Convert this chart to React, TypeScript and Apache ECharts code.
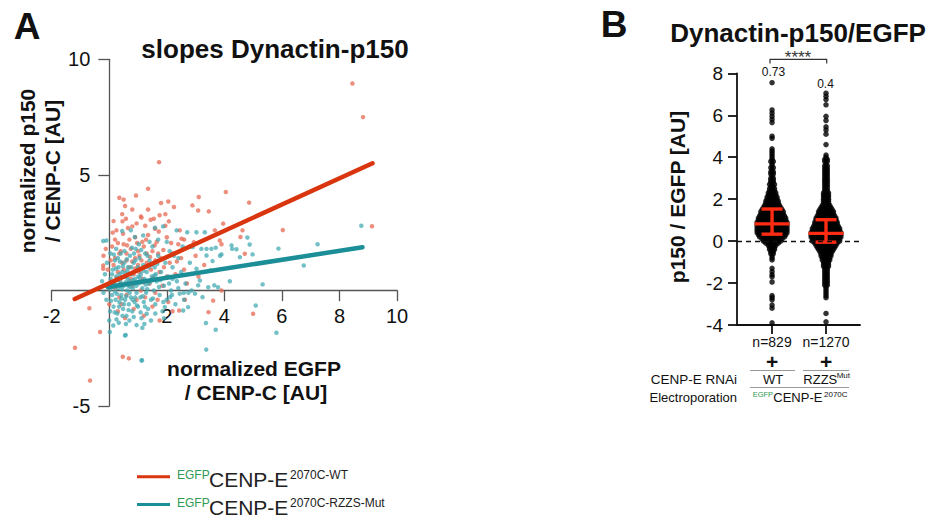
import React, { useEffect, useRef } from "react";
import * as echarts from "echarts";

const FONT = "'Liberation Sans', Arial, Helvetica, sans-serif";

// ---------- Panel A data ----------
const redPoints: number[][] = [
  [0.1, 1.9], [0.2, 2.2], [0.35, 1.6], [0.5, 2.0], [0.6, 1.3], [0.75, 1.8], [0.9, 2.3], [1.05, 1.5], [1.2, 1.9], [1.35, 2.4], [1.5, 1.7], [1.65, 2.1], [1.8, 1.4], [2.0, 2.3], [2.2, 1.6], [2.4, 2.0],
  [0.15, 1.1], [0.3, 0.8], [0.45, 1.2], [0.55, 0.6], [0.7, 1.0], [0.85, 0.7], [1.0, 1.1], [1.15, 0.5], [1.3, 1.2], [1.45, 0.9], [1.6, 1.3], [1.75, 0.8], [1.9, 1.0], [2.1, 1.2], [2.3, 0.7],
  [0.05, 0.4], [0.2, 0.1], [0.4, 0.3], [0.6, -0.2], [0.8, 0.2], [0.95, -0.4], [1.1, 0.0], [1.25, -0.3], [1.4, 0.3], [1.6, -0.1], [1.85, 0.2], [2.05, -0.5],
  [0.25, 2.6], [0.65, 2.7], [0.95, 2.9], [1.25, 2.8], [1.55, 3.1], [1.95, 2.8], [0.45, 3.3], [0.8, 3.5], [1.1, 3.2],
  [-0.05, 0.9], [-0.2, 1.5], [-0.1, 0.2], [0.0, -0.6], [0.3, -0.9], [0.55, -1.2], [0.85, -0.8], [1.2, -1.1], [1.5, -0.7], [1.75, -1.3], [2.2, -0.9],
  [0.4, 1.7], [0.7, 2.2], [1.0, 1.7], [1.3, 1.6], [0.5, 0.9], [0.9, 1.4], [1.15, 2.1], [1.7, 1.6], [2.5, 1.4], [2.6, 0.9], [2.8, 1.9], [3.0, 1.5], [3.3, 1.1], [2.7, 0.3], [3.1, 0.6],
  [0.35, -0.3], [0.75, 0.5], [1.05, 0.8], [0.2, 1.4], [0.6, 1.6],
  [0.12, 2.5], [0.3, 2.05], [0.48, 2.45], [0.62, 1.95], [0.8, 1.25], [0.97, 2.05], [1.12, 1.3], [1.28, 2.2], [1.42, 1.45], [1.58, 1.95], [1.72, 2.55], [1.88, 1.75], [2.15, 2.05], [2.35, 1.25],
  [0.25, 0.55], [0.42, -0.6], [0.68, 0.25], [0.9, 0.95], [1.2, 0.35], [1.52, 0.55], [1.68, -0.4], [2.0, 0.6], [2.45, 2.6], [2.6, 2.2], [0.05, 1.3], [-0.12, 1.8], [0.15, 3.0], [0.58, 3.1], [1.35, 3.5], [1.95, 3.3],
  [8.45, 8.95], [8.82, 7.5], [1.73, 5.55], [1.35, 4.4], [0.93, 4.11], [0.35, 4.01], [0.5, 3.93], [0.55, 3.65], [1.8, 3.78], [2.05, 3.85], [2.25, 3.61], [3.11, 4.04], [4.05, 4.26], [2.89, 3.68], [3.09, 3.46], [3.46, 3.42], [4.86, 3.8],
  [1.75, 3.25], [1.12, 3.15], [1.44, 3.06], [2.07, 2.99], [0.46, 2.99], [0.8, 2.77], [1.59, 2.67], [2.51, 2.24], [2.94, 2.09], [3.96, 2.89], [4.71, 1.59], [-0.21, 1.08], [-0.21, 0.94],
  [-0.69, -0.77], [-0.32, -1.8], [-1.19, -2.48], [-0.67, -3.9], [0.47, -2.87], [0.68, -2.94], [2.63, -0.4], [3.61, -0.44], [3.45, -0.94], [5.0, -1.01], [2.43, -0.87],
  [6.03, 2.61], [9.13, 2.78], [3.9, 0.0], [4.56, 2.31], [4.63, 2.6], [3.84, 2.16], [3.9, 2.0], [3.67, 2.6],
];

const tealPoints: number[][] = [
  [0.05, 0.5], [0.1, -0.2], [0.12, 0.9], [0.15, -0.7], [0.18, 0.3], [0.2, 1.3], [0.22, -0.4], [0.25, 0.6], [0.28, -1.0], [0.3, 0.1], [0.32, 1.0], [0.35, -0.5], [0.38, 0.4], [0.4, 1.6], [0.42, -0.2], [0.45, 0.8],
  [0.48, -0.8], [0.5, 0.2], [0.52, 1.2], [0.55, -0.4], [0.58, 0.6], [0.6, -1.1], [0.62, 0.0], [0.65, 1.0], [0.68, -0.6], [0.7, 0.4], [0.72, 1.5], [0.75, -0.3], [0.78, 0.7], [0.8, -0.9], [0.82, 0.1], [0.85, 1.2],
  [0.88, -0.5], [0.9, 0.5], [0.92, 1.8], [0.95, -0.1], [0.98, 0.9], [1.0, -0.7], [1.02, 0.3], [1.05, 1.4], [1.08, -0.3], [1.1, 0.7], [1.12, -1.2], [1.15, 0.1], [1.18, 1.1], [1.2, -0.5], [1.22, 0.5], [1.25, 1.6],
  [1.28, -0.1], [1.3, 0.8], [1.35, -0.8], [1.38, 0.3], [1.4, 1.3], [1.45, -0.4], [1.48, 0.6], [1.5, 1.9], [1.55, 0.0], [1.58, 1.0], [1.6, -0.6], [1.65, 0.4], [1.7, 1.5], [1.75, -0.2], [1.8, 0.8], [1.85, -0.9],
  [1.9, 0.2], [1.95, 1.2], [2.0, -0.4], [2.05, 0.6], [2.1, 1.7], [2.15, 0.0], [2.2, 1.0], [2.3, -0.6], [2.35, 0.4], [2.4, 1.4], [2.5, 0.8], [2.55, 1.9], [2.65, 0.3], [2.8, 1.2],
  [-0.05, 0.2], [-0.1, -0.4], [-0.15, 0.7], [-0.2, -0.1], [-0.08, 1.2], [-0.25, 0.4], [0.0, -1.3], [0.02, 0.05], [0.08, 0.15], [0.03, -0.9],
  [0.15, 0.15], [0.27, -0.15], [0.36, 0.7], [0.44, 0.05], [0.57, 0.35], [0.63, 0.85], [0.71, -0.1], [0.83, 0.45], [0.94, 0.2], [1.06, 0.55], [1.16, -0.25], [1.27, 0.25], [1.33, 1.5], [1.46, 1.1], [1.62, 0.7], [1.73, 0.15],
  [0.24, 1.8], [0.53, 1.7], [0.86, 1.6], [1.03, 2.0], [1.4, 2.1], [1.7, 2.2], [2.0, 2.1], [2.25, 1.5], [0.33, -1.4], [0.7, -1.3], [0.95, -1.5], [1.45, -1.3], [1.9, -1.2], [0.46, -1.1], [0.2, -0.05], [0.4, 0.55],
  [0.66, 0.2], [0.9, -0.3], [1.0, 1.0], [0.1, 0.7], [0.3, 1.4],
  [0.06, -0.45], [0.13, 0.35], [0.19, -0.95], [0.23, 0.95], [0.29, 0.45], [0.34, -0.7], [0.39, 0.2], [0.43, -0.35], [0.47, 1.05], [0.51, -0.6], [0.56, 0.75], [0.59, -0.25], [0.64, 0.5], [0.67, -0.85],
  [0.73, 0.15], [0.77, 1.0], [0.81, -0.4], [0.87, 0.3], [0.91, 1.3], [0.96, -0.65], [1.01, 0.6], [1.09, -0.95], [1.13, 0.35], [1.19, 0.85], [1.24, -0.7], [1.32, 0.05], [1.37, 1.0], [1.43, 0.4],
  [1.52, -0.35], [1.57, 0.65], [1.67, 1.15], [1.78, 0.45], [1.88, -0.5], [1.98, 0.55], [2.08, 0.3], [2.18, -0.2], [0.04, 1.6], [0.16, 1.55], [0.37, 1.25], [0.61, 1.35], [0.79, 1.85], [1.11, 1.75],
  [0.25, -1.25], [0.58, -1.45], [0.85, -1.15], [1.22, -1.45], [1.6, -1.0], [2.4, 0.1], [2.6, -0.4], [2.2, 0.5],
  [8.76, 2.8], [7.24, 2.0], [6.76, 1.08], [5.88, 1.81], [5.33, 0.26], [5.09, -0.65], [5.81, -1.83], [3.7, -1.7], [3.37, -2.56], [1.14, -3.02], [0.57, -1.93], [2.57, -0.87],
  [4.98, 1.56], [4.88, 1.99], [4.8, 2.29], [4.54, 1.44], [4.42, 1.78], [4.27, 1.8], [4.25, 1.95], [4.19, 0.4], [3.9, 1.56], [3.85, 1.5], [3.7, 1.85], [3.55, 1.8], [3.38, 1.8], [3.38, 1.51], [3.2, 1.8],
  [3.59, 1.27], [3.52, 0.87], [3.24, -0.29], [3.36, -1.41], [3.65, 0.22], [3.44, 0.14], [3.09, 0.22], [2.98, -0.14], [2.86, 0.0], [2.75, -0.1], [2.59, -0.1], [3.32, 2.52], [3.03, 2.52], [2.9, 1.88],
  [-0.21, 2.14], [-0.1, 2.16], [0.45, 2.57], [0.75, 2.6], [0.89, 2.31], [1.18, 2.38], [1.59, 2.71], [1.87, 2.77], [2.34, 2.6], [2.71, 2.52], [3.03, 0.94], [3.15, 0.43], [3.78, 0.14],
  [2.45, -0.14], [2.11, -0.29], [2.74, -0.72], [1.93, -0.72], [1.3, -1.01], [1.15, -1.62], [0.14, -1.52], [0.02, -1.8], [1.12, -3.03], [0.55, -1.95],
];

const redFit: number[][] = [[-1.2, -0.37], [9.15, 5.5]];
const tealFit: number[][] = [[-0.05, 0.15], [8.8, 1.87]];

const legendNames = ["2070C-WT", "2070C-RZZS-Mut"];

// ---------- Panel B data ----------
const groupPos = [1, 2];
const nLabels = ["n=829", "n=1270"];
const medianLabels = ["0.73", "0.4"];
const centers = [0.82, 0.37];
const lowerQ = [0.33, -0.05];
const upperQ = [1.53, 1.02];

// [y value, number of dots in that row]
const wtRows: number[][] = [
  [7.55, 1], [6.25, 1], [6.1, 1], [5.95, 1], [5.8, 1], [5.65, 1], [5.0, 1], [4.9, 1],
  [4.4, 1], [4.3, 1], [4.2, 1], [4.1, 1], [4.0, 1], [3.9, 1], [3.8, 2], [3.7, 1], [3.6, 1], [3.5, 2], [3.4, 1], [3.3, 2], [3.2, 2], [3.1, 1], [3.0, 2],
  [2.9, 2], [2.8, 2], [2.7, 3], [2.6, 2], [2.5, 3], [2.4, 3], [2.3, 4], [2.2, 4], [2.1, 5], [2.0, 5], [1.9, 6], [1.8, 6], [1.7, 7], [1.6, 8], [1.5, 9],
  [1.4, 10], [1.3, 10], [1.2, 11], [1.1, 12], [1.0, 12], [0.9, 13], [0.8, 13], [0.7, 13], [0.6, 13], [0.5, 13], [0.4, 13], [0.3, 12], [0.2, 11], [0.1, 9],
  [0.0, 8], [-0.1, 6], [-0.2, 4], [-0.3, 3], [-0.4, 3], [-0.5, 2], [-0.6, 2], [-0.7, 1], [-0.8, 1], [-0.9, 1],
  [-1.3, 1], [-1.45, 1], [-1.6, 1], [-1.7, 1], [-1.95, 1], [-2.6, 1], [-2.7, 1], [-2.8, 1], [-3.05, 1], [-3.2, 1], [-3.9, 1],
];
const mutRows: number[][] = [
  [7.05, 1], [6.9, 1], [6.75, 1], [6.5, 1], [5.95, 1], [5.75, 1], [5.45, 1], [5.3, 1], [5.1, 1], [4.6, 1],
  [4.1, 1], [4.0, 1], [3.9, 2], [3.8, 2], [3.7, 1], [3.6, 2], [3.5, 2], [3.4, 2], [3.3, 2], [3.2, 2], [3.1, 2], [3.0, 2], [2.9, 2], [2.8, 2], [2.7, 2],
  [2.6, 2], [2.5, 2], [2.4, 2], [2.3, 3], [2.2, 3], [2.1, 3], [2.0, 3], [1.9, 3], [1.8, 3], [1.7, 4], [1.6, 5], [1.5, 6], [1.4, 7], [1.3, 7], [1.2, 8],
  [1.1, 9], [1.0, 9], [0.9, 10], [0.8, 10], [0.7, 11], [0.6, 12], [0.5, 12], [0.4, 13], [0.3, 13], [0.2, 13], [0.1, 12], [0.0, 12], [-0.1, 10], [-0.2, 9],
  [-0.3, 8], [-0.4, 7], [-0.5, 6], [-0.6, 5], [-0.7, 5], [-0.8, 4], [-0.9, 4], [-1.0, 3], [-1.1, 3], [-1.2, 3], [-1.3, 2], [-1.4, 2], [-1.5, 2], [-1.6, 2],
  [-1.7, 2], [-1.8, 2], [-1.9, 2], [-2.0, 2], [-2.1, 2], [-2.2, 1], [-2.3, 1], [-2.4, 1], [-2.5, 1], [-2.6, 1], [-2.7, 1], [-3.45, 1], [-3.85, 1],
];

const DOT_STEP = 0.046;
function swarm(rows: number[][], center: number): number[][] {
  const pts: number[][] = [];
  rows.forEach(([y, n]) => {
    for (let i = 0; i < n; i++) pts.push([center + (i - (n - 1) / 2) * DOT_STEP, y]);
  });
  return pts;
}

function txt(x: number, y: number, text: string, size: number, opts: any = {}) {
  return {
    type: "text",
    x,
    y,
    rotation: opts.rotation || 0,
    silent: true,
    style: {
      text,
      fill: opts.color || "#111",
      font: `${opts.bold ? "bold " : ""}${size}px ${FONT}`,
      align: opts.align || "center",
      verticalAlign: "middle",
    },
  };
}
function ln(x1: number, y1: number, x2: number, y2: number, color: string, width: number) {
  return { type: "line", silent: true, shape: { x1, y1, x2, y2 }, style: { stroke: color, lineWidth: width } };
}

export default function App() {
  const ref = useRef<HTMLDivElement>(null);
  useEffect(() => {
    if (!ref.current) return;
    const chart = echarts.init(ref.current, null, { renderer: "svg" });
    const RED = "#e8705a";
    const TEAL = "#3ea7b1";
    const RED_LINE = "#d9360f";
    const TEAL_LINE = "#1b8e98";
    const GREEN = "#2e9a55";
    const axisA = "#555";
    const hideZero = (v: number) => (v === 0 ? "" : String(v));

    const graphics: any[] = [
      txt(27, 26, "A", 37, { bold: true }),
      txt(275, 49, "slopes Dynactin-p150", 26, { bold: true }),
      txt(27, 171, "normalized p150", 21, { bold: true, rotation: Math.PI / 2 }),
      txt(52, 171, "/ CENP-C [AU]", 21, { bold: true, rotation: Math.PI / 2 }),
      txt(254, 368, "normalized EGFP", 21, { bold: true }),
      txt(256, 392, "/ CENP-C [AU]", 21, { bold: true }),
      // legend
      ln(137, 476.7, 170, 476.7, RED_LINE, 3),
      txt(177, 474.5, "EGFP", 12, { align: "left", color: GREEN }),
      txt(209, 479.5, "CENP-E", 21, { align: "left", color: "#222" }),
      txt(290, 474.5, legendNames[0], 12, { align: "left", color: "#222" }),
      ln(137, 504.5, 170, 504.5, TEAL_LINE, 3),
      txt(177, 502.7, "EGFP", 12, { align: "left", color: GREEN }),
      txt(209, 507.5, "CENP-E", 21, { align: "left", color: "#222" }),
      txt(290, 502.7, legendNames[1], 12, { align: "left", color: "#222" }),
      // panel B
      txt(614, 24, "B", 37, { bold: true }),
      txt(798, 33, "Dynactin-p150/EGFP", 26, { bold: true }),
      txt(677, 197, "p150 / EGFP [AU]", 21, { bold: true, rotation: Math.PI / 2 }),
      { type: "polyline", silent: true, shape: { points: [[770, 63.5], [770, 59.3], [826.7, 59.3], [826.7, 63.5]] }, style: { stroke: "#333", lineWidth: 1.2, fill: "none" } },
      txt(798, 57, "****", 17, { color: "#333" }),
      txt(773.5, 72, medianLabels[0], 12),
      txt(825.5, 84.3, medianLabels[1], 12),
      txt(772, 342, nLabels[0], 14),
      txt(826, 342, nLabels[1], 14),
      txt(772, 361, "+", 21, { bold: true }),
      txt(826, 361, "+", 21, { bold: true }),
      ln(750, 370.5, 795, 370.5, "#999", 1),
      ln(803, 370.5, 849, 370.5, "#999", 1),
      ln(750, 387.5, 849, 387.5, "#999", 1),
      txt(737, 379.5, "CENP-E RNAi", 13.5, { align: "right" }),
      txt(737, 397.5, "Electroporation", 13, { align: "right" }),
      txt(773, 379.5, "WT", 13),
      txt(803.3, 379.5, "RZZS", 13, { align: "left" }),
      txt(836.7, 375.5, "Mut", 8, { align: "left" }),
      txt(752.7, 394, "EGFP", 7.5, { align: "left", color: GREEN }),
      txt(773.3, 397.5, "CENP-E", 13, { align: "left" }),
      txt(824, 394, "2070C", 8, { align: "left" }),
    ];

    const option: any = {
      animation: false,
      textStyle: { fontFamily: FONT },
      grid: [
        // 0: panel A plotting area
        { left: 51.7, top: 59.3, width: 345.3, height: 346.7 },
        // 1: panel B
        { left: 737, top: 73.3, width: 123, height: 251.7 },
        // 2: panel A x-axis (bottom edge at y = 0)
        { left: 51.7, top: 59.3, width: 345.3, height: 230.9 },
        // 3: panel A y-axis (left edge at x = 0)
        { left: 109.3, top: 59.3, width: 287.7, height: 346.7 },
      ],
      xAxis: [
        { type: "value", gridIndex: 0, min: -2, max: 10, show: false },
        {
          type: "value", gridIndex: 1, min: 0.35, max: 2.63,
          axisLine: { onZero: false, lineStyle: { color: "#111", width: 1.8 } },
          axisTick: { customValues: groupPos, length: 9, lineStyle: { color: "#111", width: 1.8 } },
          axisLabel: { show: false },
          splitLine: { show: false },
        },
        {
          type: "value", gridIndex: 2, min: -2, max: 10, interval: 2, position: "bottom",
          axisLine: { onZero: false, lineStyle: { color: axisA, width: 1.3 } },
          axisTick: { length: 11, lineStyle: { color: axisA, width: 1.3 } },
          axisLabel: { formatter: hideZero, fontSize: 20, color: "#111", margin: 16 },
          splitLine: { show: false },
        },
        { type: "value", gridIndex: 3, min: 0, max: 10, show: false },
      ],
      yAxis: [
        { type: "value", gridIndex: 0, min: -5, max: 10, show: false },
        {
          type: "value", gridIndex: 1, min: -4, max: 8, interval: 2,
          axisLine: { show: true, onZero: false, lineStyle: { color: "#111", width: 1.8 } },
          axisTick: { show: true, length: 9, lineStyle: { color: "#111", width: 1.8 } },
          axisLabel: { fontSize: 19, color: "#111", margin: 14 },
          splitLine: { show: false },
        },
        { type: "value", gridIndex: 2, min: 0, max: 10, show: false },
        {
          type: "value", gridIndex: 3, min: -5, max: 10, interval: 5, position: "left",
          axisLine: { show: true, onZero: false, lineStyle: { color: axisA, width: 1.3 } },
          axisTick: { show: true, length: 11, lineStyle: { color: axisA, width: 1.3 } },
          axisLabel: { formatter: hideZero, fontSize: 20, color: "#111", margin: 19 },
          splitLine: { show: false },
        },
      ],
      series: [
        {
          type: "scatter", xAxisIndex: 0, yAxisIndex: 0, data: redPoints, symbolSize: 4.5,
          itemStyle: { color: RED, opacity: 0.78 }, z: 2, silent: true,
        },
        {
          type: "scatter", xAxisIndex: 0, yAxisIndex: 0, data: tealPoints, symbolSize: 4.5,
          itemStyle: { color: TEAL, opacity: 0.72 }, z: 3, silent: true,
        },
        {
          type: "line", xAxisIndex: 0, yAxisIndex: 0, data: tealFit, showSymbol: false,
          lineStyle: { color: TEAL_LINE, width: 4.5, cap: "round" }, z: 4, silent: true,
        },
        {
          type: "line", xAxisIndex: 0, yAxisIndex: 0, data: redFit, showSymbol: false,
          lineStyle: { color: RED_LINE, width: 4.5, cap: "round" }, z: 5, silent: true,
        },
        {
          type: "scatter", xAxisIndex: 1, yAxisIndex: 1, data: [], z: 1, silent: true,
          markLine: {
            silent: true, symbol: ["none", "none"], label: { show: false },
            lineStyle: { color: "#111", type: [5, 4], width: 1.4 },
            data: [{ yAxis: 0 }],
          },
        },
        {
          type: "scatter", xAxisIndex: 1, yAxisIndex: 1, data: swarm(wtRows, groupPos[0]), symbolSize: 5.5,
          itemStyle: { color: "#000" }, z: 2, silent: true,
        },
        {
          type: "scatter", xAxisIndex: 1, yAxisIndex: 1, data: swarm(mutRows, groupPos[1]), symbolSize: 5.5,
          itemStyle: { color: "#000" }, z: 2, silent: true,
        },
        {
          type: "custom", xAxisIndex: 1, yAxisIndex: 1, z: 3, silent: true,
          data: groupPos.map((p, i) => [p, centers[i], lowerQ[i], upperQ[i]]),
          renderItem: (params: any, api: any) => {
            const x = api.value(0);
            const c = api.coord([x, api.value(1)]);
            const lo = api.coord([x, api.value(2)]);
            const hi = api.coord([x, api.value(3)]);
            const style = { stroke: "#ff2b12", lineWidth: 3.4 };
            return {
              type: "group",
              children: [
                { type: "line", shape: { x1: c[0], y1: hi[1], x2: c[0], y2: lo[1] }, style },
                { type: "line", shape: { x1: c[0] - 17.5, y1: c[1], x2: c[0] + 17.5, y2: c[1] }, style },
                { type: "line", shape: { x1: c[0] - 10.5, y1: hi[1], x2: c[0] + 10.5, y2: hi[1] }, style },
                { type: "line", shape: { x1: c[0] - 10.5, y1: lo[1], x2: c[0] + 10.5, y2: lo[1] }, style },
              ],
            };
          },
        },
      ],
      graphic: graphics,
    };
    chart.setOption(option);
    return () => chart.dispose();
  }, []);
  return <div ref={ref} style={{ width: 942, height: 518, position: "absolute", left: 0, top: 0, background: "#fff" }} />;
}
